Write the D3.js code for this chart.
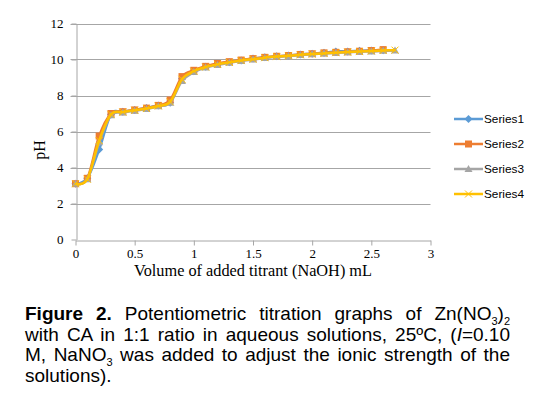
<!DOCTYPE html>
<html>
<head>
<meta charset="utf-8">
<script src="https://cdn.jsdelivr.net/npm/d3@7"></script>
<style>
  body { margin: 0; background: #fff; width: 545px; height: 397px; overflow: hidden; position: relative; }
  #caption { position: absolute; left: 25px; top: 304px; width: 485px;
    font-family: "Liberation Sans", Arial, sans-serif; font-size: 19px; line-height: 20.7px; color: #000; }
  #caption div { text-align: justify; text-align-last: justify; white-space: nowrap; }
  #caption div.last { text-align-last: left; }
  #caption sub { font-size: 11px; vertical-align: -5px; line-height: 0; }
</style>
</head>
<body>
<svg id="chart" width="545" height="295"></svg>
<div id="caption">
  <div><b>Figure 2.</b> Potentiometric titration graphs of Zn(NO<sub>3</sub>)<sub>2</sub></div>
  <div>with CA in 1:1 ratio in aqueous solutions, 25ºC, (<i>I</i>=0.10</div>
  <div>M, NaNO<sub>3</sub> was added to adjust the ionic strength of the</div>
  <div class="last">solutions).</div>
</div>
<script>
const volume = [0, 0.1, 0.2, 0.3, 0.4, 0.5, 0.6, 0.7, 0.8, 0.9, 1.0, 1.1, 1.2, 1.3,
  1.4, 1.5, 1.6, 1.7, 1.8, 1.9, 2.0, 2.1, 2.2, 2.3, 2.4, 2.5, 2.6, 2.7];
const series1 = [3.1, 3.4, 5.0, 6.95, 7.1, 7.2, 7.3, 7.45, 7.6, 8.95, 9.35, 9.6, 9.75, 9.85,
  9.95, 10.05, 10.12, 10.18, 10.22, 10.28, 10.32, 10.38, 10.45, 10.45, 10.48, 10.5, 10.52];
const series2 = [3.1, 3.4, 5.75, 7.0, 7.1, 7.2, 7.3, 7.45, 7.75, 9.05, 9.4, 9.62, 9.78, 9.88,
  9.97, 10.05, 10.12, 10.18, 10.22, 10.28, 10.32, 10.37, 10.4, 10.43, 10.46, 10.5, 10.55];
const series3 = [3.1, 3.35, 5.4, 6.9, 7.05, 7.15, 7.25, 7.4, 7.6, 8.8, 9.3, 9.55, 9.7, 9.82,
  9.92, 10.0, 10.08, 10.15, 10.2, 10.25, 10.3, 10.33, 10.37, 10.4, 10.43, 10.45, 10.48, 10.5];
const series4 = [3.1, 3.35, 5.5, 6.95, 7.08, 7.18, 7.28, 7.42, 7.65, 8.9, 9.35, 9.58, 9.73, 9.84,
  9.94, 10.02, 10.1, 10.16, 10.21, 10.26, 10.3, 10.34, 10.38, 10.41, 10.44, 10.47, 10.5, 10.52];
const seriesNames = ["Series1", "Series2", "Series3", "Series4"];
const xTicks = [0, 0.5, 1, 1.5, 2, 2.5, 3];
const yTicks = [0, 2, 4, 6, 8, 10, 12];

const colors = ["#5b9bd5", "#ed7d31", "#a5a5a5", "#ffc000"];
const markers = ["diamond", "square", "triangle", "x"];
const allSeries = [series1, series2, series3, series4];

const svg = d3.select("#chart");
const x = d3.scaleLinear().domain([0, 3]).range([75.5, 430.5]);
const y = d3.scaleLinear().domain([0, 12]).range([239.5, 23.5]);

// gridlines
svg.append("g").selectAll("line").data(yTicks.filter(d => d > 0)).join("line")
  .attr("x1", x(0) - 5).attr("x2", x(3))
  .attr("y1", d => Math.round(y(d)) + 0.5).attr("y2", d => Math.round(y(d)) + 0.5)
  .attr("stroke", "#a6a6a6").attr("stroke-width", 1);

// axes
const serif = "'Liberation Serif', 'Times New Roman', serif";
const xAxis = svg.append("g").attr("transform", `translate(0,${Math.round(y(0)) + 0.5})`)
  .call(d3.axisBottom(x).tickValues(xTicks).tickFormat(d => String(d)).tickSize(5).tickSizeOuter(0).tickPadding(5));
const yAxis = svg.append("g").attr("transform", `translate(${Math.round(x(0)) + 0.5},0)`)
  .call(d3.axisLeft(y).tickValues(yTicks).tickFormat(d => String(d)).tickSize(5).tickSizeOuter(0).tickPadding(8));
[xAxis, yAxis].forEach(g => {
  g.selectAll("path, line").attr("stroke", "#a6a6a6");
  g.selectAll("text").attr("font-family", serif).attr("font-size", 13).attr("fill", "#000");
});
xAxis.selectAll("text").attr("dy", "0.6em");

svg.append("text").attr("x", 253).attr("y", 276).attr("text-anchor", "middle")
  .attr("font-family", serif).attr("font-size", 16.3).text("Volume of added titrant (NaOH) mL");
svg.append("text").attr("transform", "translate(45,150) rotate(-90)").attr("text-anchor", "middle")
  .attr("font-family", serif).attr("font-size", 16).text("pH");

const line = d3.line().x((d, i) => x(volume[i])).y(d => y(d)).curve(d3.curveCatmullRom.alpha(0));

function drawMarker(g, type, color, cx, cy) {
  if (type === "diamond") {
    g.append("path").attr("d", `M${cx},${cy - 4}L${cx + 4},${cy}L${cx},${cy + 4}L${cx - 4},${cy}Z`).attr("fill", color);
  } else if (type === "square") {
    g.append("rect").attr("x", cx - 3.5).attr("y", cy - 3.5).attr("width", 7).attr("height", 7).attr("fill", color);
  } else if (type === "triangle") {
    g.append("path").attr("d", `M${cx},${cy - 4}L${cx + 4},${cy + 3}L${cx - 4},${cy + 3}Z`).attr("fill", color);
  } else {
    g.append("path").attr("d", `M${cx - 3.5},${cy - 3.5}L${cx + 3.5},${cy + 3.5}M${cx + 3.5},${cy - 3.5}L${cx - 3.5},${cy + 3.5}`)
      .attr("stroke", color).attr("stroke-width", 1);
  }
}

allSeries.forEach((vals, k) => {
  const g = svg.append("g");
  g.append("path").datum(vals).attr("d", line).attr("fill", "none")
    .attr("stroke", colors[k]).attr("stroke-width", 2.5).attr("stroke-linejoin", "round");
  vals.forEach((v, i) => drawMarker(g, markers[k], colors[k], x(volume[i]), y(v)));
});

// legend
const legendY = [119, 144, 169, 194];
seriesNames.forEach((name, k) => {
  const g = svg.append("g");
  g.append("line").attr("x1", 454).attr("x2", 483).attr("y1", legendY[k]).attr("y2", legendY[k])
    .attr("stroke", colors[k]).attr("stroke-width", 2.5);
  drawMarker(g, markers[k], colors[k], 468.5, legendY[k]);
  g.append("text").attr("x", 484).attr("y", legendY[k] + 4)
    .attr("font-family", "'Liberation Sans', Arial, sans-serif").attr("font-size", 11.8)
    .attr("fill", "#000").text(name);
});
</script>
</body>
</html>
